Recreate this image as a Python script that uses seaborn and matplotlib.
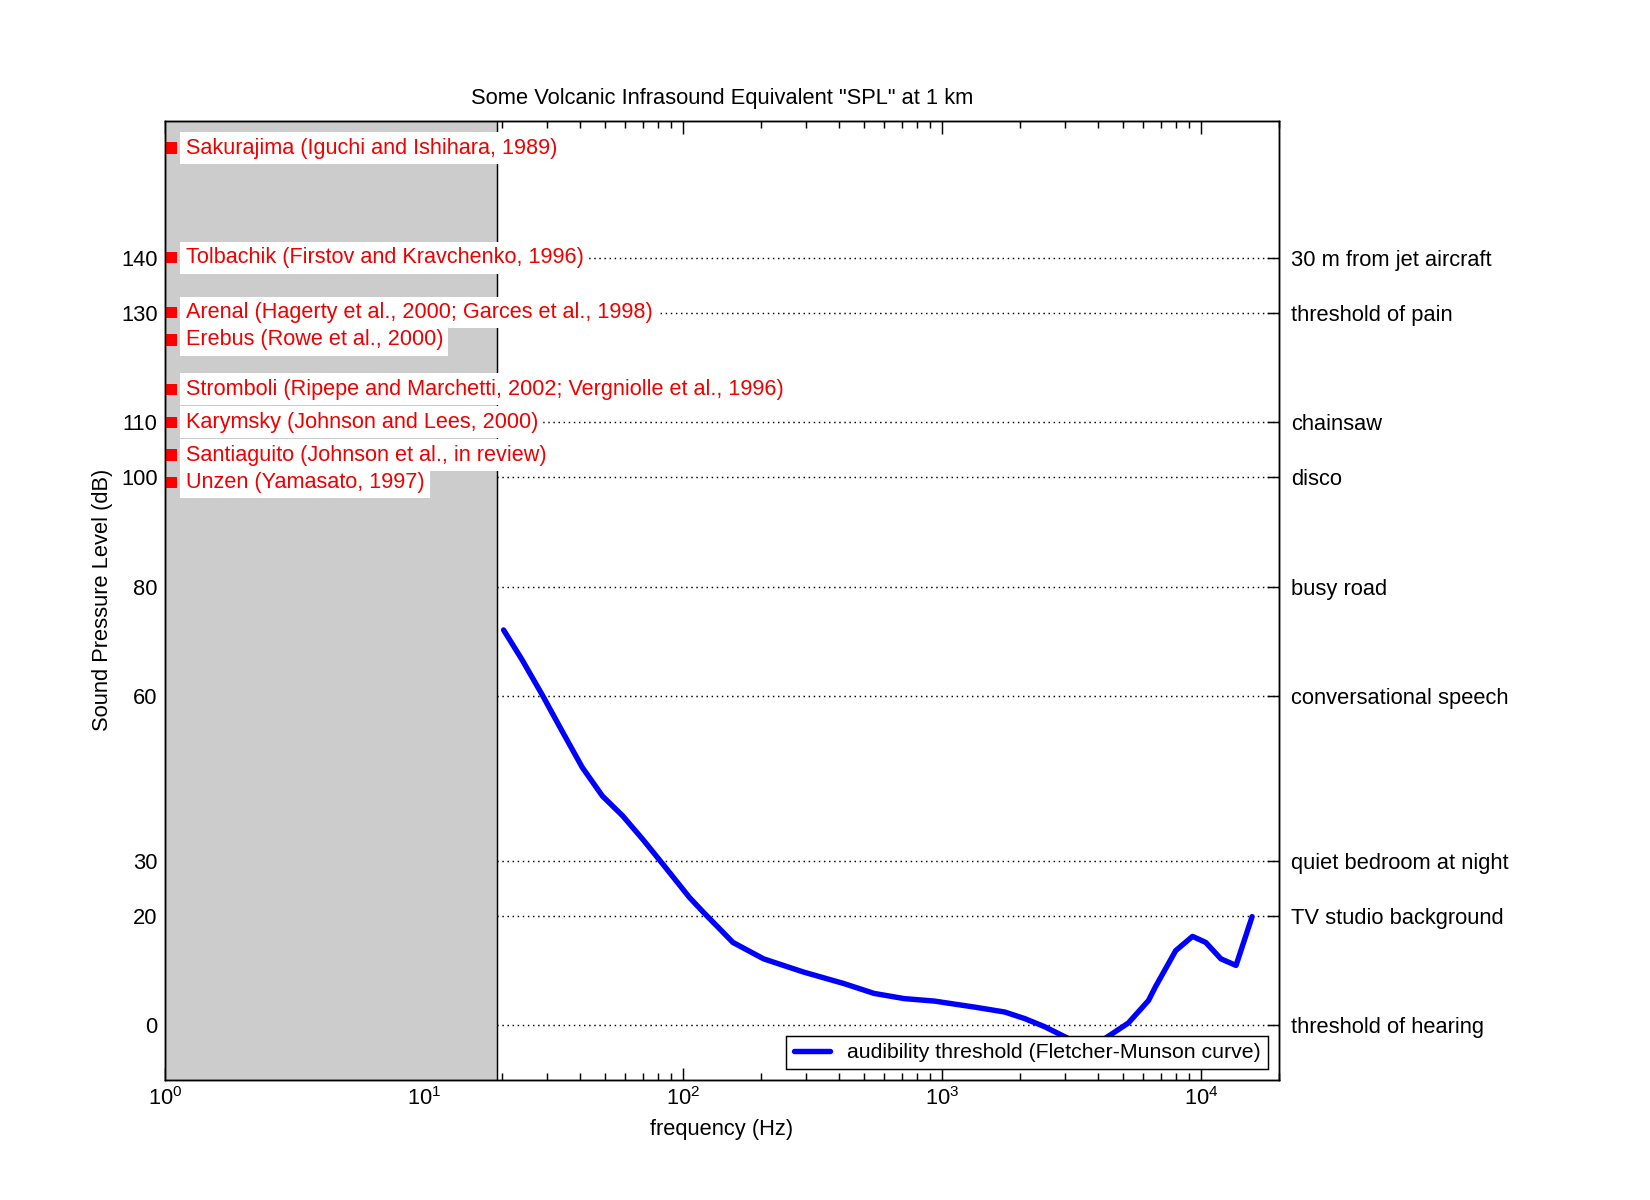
import numpy as np
import pandas as pd
import matplotlib
matplotlib.use("Agg")
import matplotlib.pyplot as plt
import seaborn as sns

# audibility threshold (Fletcher-Munson)
freq = [20.3, 23.9, 28.6, 34.2, 40.9, 48.9, 58.5, 70, 83.6, 106, 120, 156, 205, 292,
        418, 547, 715, 935, 1337, 1750, 2090, 2500, 3070, 3550, 4275, 5250, 6280,
        6680, 8000, 9290, 10450, 11960, 13680, 15780]
spl = [72.1, 66.7, 60.3, 53.6, 47.0, 41.8, 38.2, 33.9, 29.4, 23.3, 20.6, 15.1, 12.1, 9.7,
       7.6, 5.8, 4.85, 4.4, 3.3, 2.4, 1.2, -0.3, -2.4, -4.0, -2.4, 0.4, 4.5,
       7.0, 13.6, 16.2, 15.1, 12.1, 10.9, 19.8]

# volcanoes
volcanoes = ["Sakurajima (Iguchi and Ishihara, 1989)",
             "Tolbachik (Firstov and Kravchenko, 1996)",
             "Arenal (Hagerty et al., 2000; Garces et al., 1998)",
             "Erebus (Rowe et al., 2000)",
             "Stromboli (Ripepe and Marchetti, 2002; Vergniolle et al., 1996)",
             "Karymsky (Johnson and Lees, 2000)",
             "Santiaguito (Johnson et al., in review)",
             "Unzen (Yamasato, 1997)"]
volcano_db = [160, 140, 130, 125, 116, 110, 104, 99]

# reference sound levels
ref_db = [0, 20, 30, 60, 80, 100, 110, 130, 140]
ref_names = ["threshold of hearing", "TV studio background", "quiet bedroom at night",
             "conversational speech", "busy road", "disco", "chainsaw",
             "threshold of pain", "30 m from jet aircraft"]

sns.set_style("ticks", {"axes.edgecolor": "k", "text.color": "k", "axes.labelcolor": "k",
                        "xtick.color": "k", "ytick.color": "k"})
plt.rcParams['font.family'] = ['Liberation Sans', 'DejaVu Sans']
plt.rcParams['mathtext.default'] = 'regular'

fig = plt.figure(figsize=(11, 8), dpi=150)
ax = fig.add_axes([0.1, 0.1, 0.675, 0.7994])

ax.set_xscale('log')
ax.set_xlim(1, 2e4)
ax.set_ylim(-10, 165)

# infrasound band
ax.axvspan(1, 19.2, color='#cccccc', zorder=1, lw=0)
ax.axvline(19.2, color='k', lw=0.7, zorder=1.5)

# dotted reference lines
ax.set_axisbelow(True)
ax.set_yticks(ref_db)
ax.yaxis.grid(True, color='k', lw=0.7, linestyle=(0, (1, 2.5)))

df = pd.DataFrame({'f': freq, 'db': spl})
sns.lineplot(data=df, x='f', y='db', color=(0, 0, 1), lw=2.6, ax=ax, estimator=None,
             label='audibility threshold (Fletcher-Munson curve)', zorder=3)

# volcano markers + labels
sns.scatterplot(x=[1.055] * len(volcano_db), y=volcano_db, marker='s', color='red',
                s=30, edgecolor='none', ax=ax, zorder=4, legend=False, clip_on=False)
for name, db in zip(volcanoes, volcano_db):
    ax.text(1.2, db, name, color='#ee0000', fontsize=10.4, ha='left', va='center', zorder=4,
            bbox=dict(facecolor='white', edgecolor='none', pad=2.6))

ax.set_xlabel("frequency (Hz)", fontsize=10.5)
ax.set_ylabel("Sound Pressure Level (dB)", fontsize=10.5)
ax.set_title('Some Volcanic Infrasound Equivalent "SPL" at 1 km', fontsize=10.5, pad=8)

ax.tick_params(which='both', direction='in', top=True, right=False, labelsize=10.5, width=0.7)
ax.tick_params(which='major', length=6)
ax.tick_params(which='minor', length=3.5)
ax.tick_params(axis='y', which='minor', left=False)
for s in ax.spines.values():
    s.set_linewidth(0.7)

# right axis with named levels
ax2 = ax.twinx()
ax2.set_ylim(ax.get_ylim())
ax2.set_yticks(ref_db)
ax2.set_yticklabels(ref_names)
ax2.tick_params(direction='in', length=6, width=0.7, labelsize=10.5, pad=6)
ax2.tick_params(which='minor', right=False)
for s in ax2.spines.values():
    s.set_linewidth(0.7)

leg = ax.legend(loc='lower right', fancybox=False, framealpha=1, edgecolor='k',
                fontsize=10.2, handlelength=1.7, borderpad=0.35)
leg.get_frame().set_linewidth(0.7)
leg.set_zorder(6)

fig.savefig("out.png", dpi=150)
